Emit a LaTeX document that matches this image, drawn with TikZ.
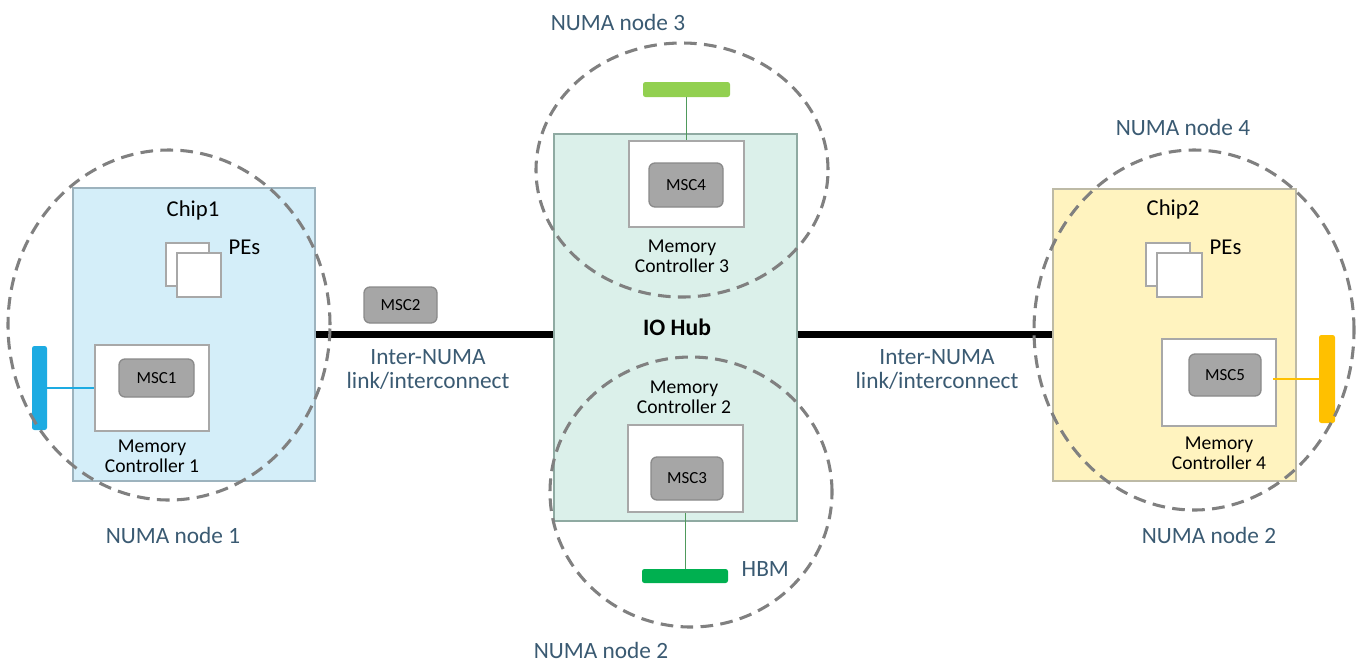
\documentclass[tikz,border=0pt]{standalone}
\usepackage{fontspec}
\setmainfont{Carlito}
\usetikzlibrary{fit,shapes.geometric}
\definecolor{labelblue}{HTML}{3A5A72}
\definecolor{chipAfill}{HTML}{D4EEF9}
\definecolor{chipAline}{HTML}{9DB3BE}
\definecolor{hubfill}{HTML}{DBF0EA}
\definecolor{hubline}{HTML}{8FAAA2}
\definecolor{chipBfill}{HTML}{FFF3BF}
\definecolor{chipBline}{HTML}{BDBAA6}
\definecolor{boxline}{HTML}{A8A8A8}
\definecolor{mscfill}{HTML}{A6A6A6}
\definecolor{mscline}{HTML}{8A8A8A}
\definecolor{numaline}{HTML}{808080}
\definecolor{barblue}{HTML}{1DABE2}
\definecolor{barlime}{HTML}{92D050}
\definecolor{bargreen}{HTML}{00B050}
\definecolor{baryellow}{HTML}{FFC000}
\definecolor{wiregreen}{HTML}{4F9A5C}
\begin{document}
\begin{tikzpicture}[x=0.75pt,y=-0.75pt,
  chipbox/.style={draw, line width=0.9pt, inner sep=0pt},
  mcbox/.style={draw=boxline, fill=white, line width=1.3pt, inner sep=0pt},
  pebox/.style={draw=boxline, fill=white, line width=1.1pt, inner sep=0pt},
  mscbox/.style={draw=mscline, fill=mscfill, line width=1pt, rounded corners=4.5pt, inner sep=0pt},
  msctext/.style={font=\fontsize{12.7}{15}\selectfont},
  mctext/.style={font=\fontsize{14.7}{15}\selectfont, align=center},
  chiptext/.style={font=\fontsize{17}{20}\selectfont},
  numatext/.style={text=labelblue, font=\fontsize{17.5}{18}\selectfont, align=center},
  numaring/.style={draw=numaline, ellipse, line width=2.3pt, dash pattern=on 9.5pt off 5.5pt, inner sep=0pt},
  membar/.style={rounded corners=1.8pt, inner sep=0pt},
  linkline/.style={line width=5.3pt, black},
  wire/.style={line width=1pt}]
\useasboundingbox (0,0) rectangle (1360,662);

% main blocks
\node[chipbox, draw=chipAline, fill=chipAfill, fit={(73,188)(315,481)}] (chip1) {};
\node[chipbox, draw=hubline, fill=hubfill, fit={(554,134)(797,521)}] (hub) {};
\node[chipbox, draw=chipBline, fill=chipBfill, fit={(1053,189)(1296,481)}] (chip2) {};

% links
\draw[linkline] (chip1.east) -- (hub.west |- chip1.east);
\draw[linkline] (hub.east |- chip1.east) -- (chip2.west |- chip1.east);

% chip1 contents
\node[chiptext] (chip1lbl) at (193,210) {Chip1};
\node[pebox, fit={(166,243)(209,286)}] (pe1a) {};
\node[pebox, fit={(177,253)(221,297)}] (pe1b) {};
\node[chiptext, anchor=west] (pe1lbl) at (224,247) {PEs};
\node[mcbox, fit={(95,345)(209,431)}] (mc1) {};
\node[mscbox, fit={(119,359)(194,397)}] (msc1) {};
\node[msctext] (msc1lbl) at (msc1) {MSC1};
\node[mctext] (mc1lbl) at (152,456) {Memory\\Controller 1};
\node[membar, fill=barblue, fit={(32,346)(47,430)}] (bar1) {};
\draw[wire, barblue] (bar1.east |- mc1.west) -- (mc1.west);

% MSC2 on link
\node[mscbox, fit={(364,287)(437,323)}] (msc2) {};
\node[msctext] (msc2lbl) at (msc2) {MSC2};
\node[numatext] (link1lbl) at (428,369) {Inter-NUMA\\link/interconnect};

% hub contents
\node[font=\bfseries\fontsize{17.7}{20}\selectfont] (hublbl) at (677,327) {IO Hub};
\node[mcbox, fit={(629,141)(744,227)}] (mc3) {};
\node[mscbox, fit={(649,163)(723,207)}] (msc4) {};
\node[msctext] (msc4lbl) at (msc4) {MSC4};
\node[mctext] (mc3lbl) at (682,256) {Memory\\Controller 3};
\node[membar, fill=barlime, fit={(643,82)(730,97)}] (bar3) {};
\draw[wire, wiregreen] (bar3.south) -- (bar3.south |- mc3.north);

\node[mctext] (mc2lbl) at (684,397) {Memory\\Controller 2};
\node[mcbox, fit={(628,425)(743,512)}] (mc2) {};
\node[mscbox, fit={(651,457)(723,500)}] (msc3) {};
\node[msctext] (msc3lbl) at (msc3) {MSC3};
\node[membar, fill=bargreen, fit={(642,569)(728,583)}] (hbm) {};
\draw[wire, wiregreen] (mc2.south) -- (mc2.south |- hbm.north);
\node[numatext, anchor=west] (hbmlbl) at (737,569) {HBM};

\node[numatext] (link2lbl) at (937,369) {Inter-NUMA\\link/interconnect};

% chip2 contents
\node[chiptext] (chip2lbl) at (1173,209) {Chip2};
\node[pebox, fit={(1146,243)(1190,286)}] (pe2a) {};
\node[pebox, fit={(1157,253)(1202,297)}] (pe2b) {};
\node[chiptext, anchor=west] (pe2lbl) at (1205,247) {PEs};
\node[mcbox, fit={(1162,339)(1276,426)}] (mc4) {};
\node[mscbox, fit={(1189,354)(1261,396)}] (msc5) {};
\node[msctext] (msc5lbl) at (msc5) {MSC5};
\node[mctext] (mc4lbl) at (1219,453) {Memory\\Controller 4};
\node[membar, fill=baryellow, fit={(1319,335)(1335,423)}] (bar4) {};
\draw[wire, baryellow] (bar4.west) -- ([xshift=-3pt]bar4.west -| mc4.east);

% NUMA rings
\node[numaring, minimum width=241.5pt, minimum height=262.5pt] (numa1) at (169,325) {};
\node[numaring, minimum width=219pt, minimum height=190.5pt] (numa3) at (682,170) {};
\node[numaring, minimum width=211.5pt, minimum height=202.5pt] (numa2b) at (691,492) {};
\node[numaring, minimum width=240pt, minimum height=270pt] (numa4) at (1194,330) {};

% NUMA labels
\node[numatext] (numa1lbl) at (173,535) {NUMA node 1};
\node[numatext] (numa3lbl) at (618,22) {NUMA node 3};
\node[numatext] (numa2blbl) at (601,650) {NUMA node 2};
\node[numatext] (numa4lbl) at (1183,127) {NUMA node 4};
\node[numatext] (numa2rlbl) at (1209,535) {NUMA node 2};
\end{tikzpicture}
\end{document}
